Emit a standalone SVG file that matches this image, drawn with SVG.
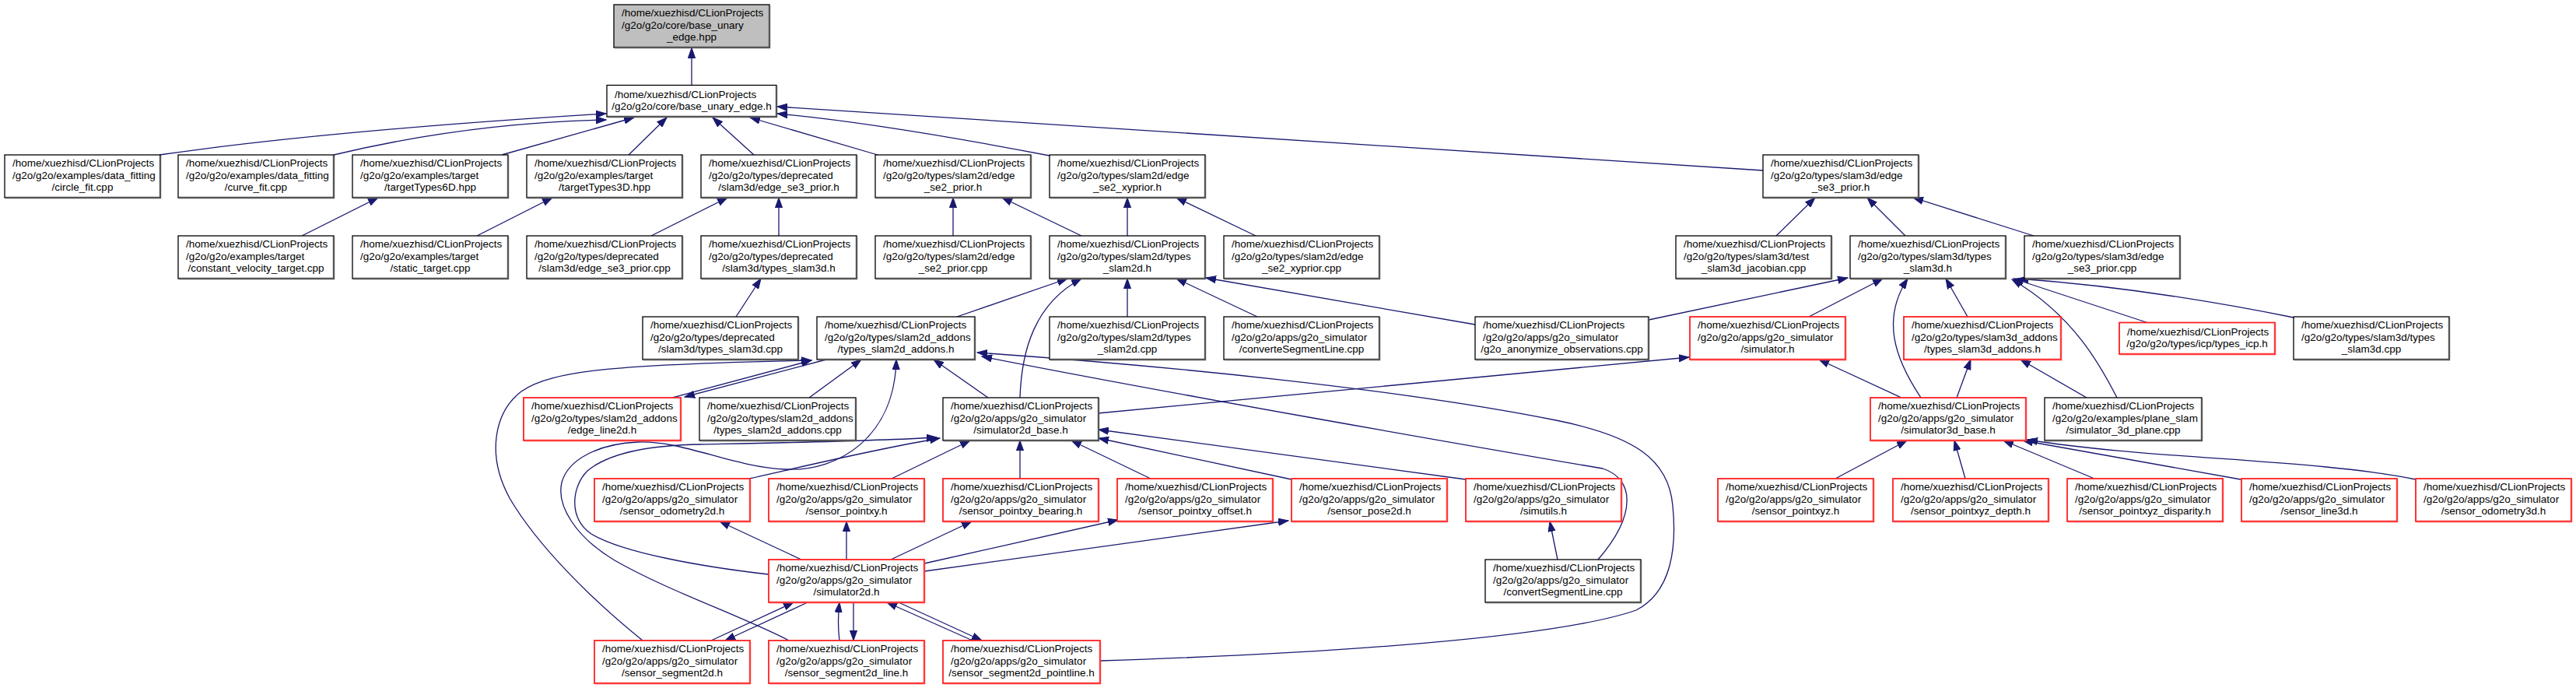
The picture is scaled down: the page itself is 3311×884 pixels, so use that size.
<svg xmlns="http://www.w3.org/2000/svg" width="3311" height="884" viewBox="0 0 3311 884">
<defs>
<marker id="ah" markerWidth="14" markerHeight="10" refX="13" refY="5" orient="auto" markerUnits="userSpaceOnUse"><path d="M0,0.4 L13,5 L0,9.6 z" fill="#191970" stroke="#191970" stroke-width="1"/></marker>
<style>
.e{fill:none;stroke:#191970;stroke-width:1.3;marker-end:url(#ah)}
.b rect{fill:#fff;stroke:#000;stroke-width:1.3}
.g rect{fill:#bfbfbf;stroke:#000;stroke-width:1.3}
.r rect{fill:#fff;stroke:#ff2020;stroke-width:1.8}
.s{fill:none;stroke:#555;stroke-width:2.4}
.rs{fill:none;stroke:#ff3a3a;stroke-width:2.4}
text{font-family:"Liberation Sans",Arial,sans-serif;font-size:13.5px;fill:#000}
.c{text-anchor:middle}
</style>
</defs>
<rect width="3311" height="884" fill="#fff"/>
<g id="edges">
<path class="e" d="M889,109.5 L889,61.5"/>
<path class="e" d="M205,199 Q420,168 779,146"/>
<path class="e" d="M429,199 Q600,158 779,154"/>
<path class="e" d="M645,199 L815,151"/>
<path class="e" d="M808,199 L857,151"/>
<path class="e" d="M969,199 L916,151"/>
<path class="e" d="M1128,199 L964,151"/>
<path class="e" d="M1349,200 Q1130,158 999,146"/>
<path class="e" d="M2266,219 L999,137"/>
<path class="e" d="M388,303 L486,254"/>
<path class="e" d="M613,303 L710,254"/>
<path class="e" d="M837,303 L935,254"/>
<path class="e" d="M1001,303 V254"/>
<path class="e" d="M946,407 L978,358"/>
<path class="e" d="M1225,303 V254"/>
<path class="e" d="M1390,303 L1288,254"/>
<path class="e" d="M1449,303 V254"/>
<path class="e" d="M1614,303 L1512,254"/>
<path class="e" d="M2283,303 L2333,254"/>
<path class="e" d="M2449,303 L2400,254"/>
<path class="e" d="M2614,303 L2459,254"/>
<path class="e" d="M1230,407 L1372,358"/>
<path class="e" d="M1449,407 V358"/>
<path class="e" d="M1616,407 L1512,358"/>
<path class="e" d="M1896,417 L1550,357"/>
<path class="e" d="M2119,411 L2375,357"/>
<path class="e" d="M2325,407 L2420,358"/>
<path class="e" d="M2529,407 L2501,358"/>
<path class="e" d="M2760,414.5 L2588,358"/>
<path class="e" d="M2948,408 Q2760,370 2594,358"/>
<path class="e" d="M864,511 L1043,463"/>
<path class="e" d="M1062,462 L880,510"/>
<path class="e" d="M1040,511 L1107,462"/>
<path class="e" d="M1270,511 L1200,462"/>
<path class="e" d="M1311,511 C1313,450 1330,390 1390,358"/>
<path class="e" d="M1411,531 L2171,459"/>
<path class="e" d="M2444,511 L2338,462"/>
<path class="e" d="M2515,511 L2533,462"/>
<path class="e" d="M2469,511 C2435,460 2418,410 2452,358"/>
<path class="e" d="M2682,511 L2597,462"/>
<path class="e" d="M2721,511 C2700,470 2665,405 2586,359"/>
<path class="e" d="M963,615 C1030,600 1120,578 1208,563"/>
<path class="e" d="M1146,615 L1247,566"/>
<path class="e" d="M1311,615 V566"/>
<path class="e" d="M1479,615 L1377,566"/>
<path class="e" d="M1660,616 L1412,563"/>
<path class="e" d="M1884,616 L1412,552"/>
<path class="e" d="M1014,823 C950,790 860,760 790,720 C740,690 715,650 722,620 C730,590 770,570 820,568 C880,566 940,600 1010,603 C1080,606 1150,560 1152,462"/>
<path class="e" d="M988,738 C900,728 800,710 760,686 C730,665 735,625 755,605 C785,580 840,572 900,571 C1000,569 1120,567 1204,562"/>
<path class="e" d="M826,823 C760,770 690,700 655,640 C625,585 635,530 670,503 C710,475 800,468 1043,463"/>
<path class="e" d="M1030,719 L925,670"/>
<path class="e" d="M1088,719 V670"/>
<path class="e" d="M1145,719 L1249,670"/>
<path class="e" d="M1188,724 L1437,668"/>
<path class="e" d="M1188,734 L1656,669"/>
<path class="e" d="M914,823 L1020,774"/>
<path class="e" d="M1038,774 L932,823"/>
<path class="e" d="M1079,823 Q1076,800 1079,774"/>
<path class="e" d="M1097,774 V823"/>
<path class="e" d="M1250,823 L1140,774"/>
<path class="e" d="M1155,774 L1262,823"/>
<path class="e" d="M1414,849 C1700,840 2000,820 2103,784 C2150,760 2155,700 2150,650 C2145,590 2100,560 2000,540 C1800,500 1500,470 1256,453"/>
<path class="e" d="M2054,719 C2105,660 2100,615 2060,602 C1900,575 1500,505 1262,458"/>
<path class="e" d="M2002,719 L1992,670"/>
<path class="e" d="M2359,615 L2451,566"/>
<path class="e" d="M2526,615 L2512,566"/>
<path class="e" d="M2692,615 L2575,566"/>
<path class="e" d="M2880,616 L2600,566"/>
<path class="e" d="M3105,616 C2980,590 2760,590 2606,565"/>
</g>
<g id="n_base_unary_edge_hpp" class="g"><rect x="789" y="6" width="200" height="55"/><path class="s" d="M989,7V61H790"/><text x="799" y="21">/home/xuezhisd/CLionProjects</text><text x="799" y="36.5">/g2o/g2o/core/base_unary</text><text class="c" x="889" y="52">_edge.hpp</text></g>
<g id="n_base_unary_edge_h" class="b"><rect x="780" y="109.5" width="218" height="40.5"/><path class="s" d="M998,110.5V150H781"/><text x="790" y="125.5">/home/xuezhisd/CLionProjects</text><text class="c" x="889" y="140.5">/g2o/g2o/core/base_unary_edge.h</text></g>
<g id="n_circle_fit" class="b"><rect x="6" y="199" width="200" height="55"/><path class="s" d="M206,200V254H7"/><text x="16" y="214">/home/xuezhisd/CLionProjects</text><text x="16" y="229.5">/g2o/g2o/examples/data_fitting</text><text class="c" x="106" y="245">/circle_fit.cpp</text></g>
<g id="n_curve_fit" class="b"><rect x="229" y="199" width="200" height="55"/><path class="s" d="M429,200V254H230"/><text x="239" y="214">/home/xuezhisd/CLionProjects</text><text x="239" y="229.5">/g2o/g2o/examples/data_fitting</text><text class="c" x="329" y="245">/curve_fit.cpp</text></g>
<g id="n_targetTypes6D" class="b"><rect x="453" y="199" width="200" height="55"/><path class="s" d="M653,200V254H454"/><text x="463" y="214">/home/xuezhisd/CLionProjects</text><text x="463" y="229.5">/g2o/g2o/examples/target</text><text class="c" x="553" y="245">/targetTypes6D.hpp</text></g>
<g id="n_targetTypes3D" class="b"><rect x="677" y="199" width="200" height="55"/><path class="s" d="M877,200V254H678"/><text x="687" y="214">/home/xuezhisd/CLionProjects</text><text x="687" y="229.5">/g2o/g2o/examples/target</text><text class="c" x="777" y="245">/targetTypes3D.hpp</text></g>
<g id="n_depr_edge_se3_prior_h" class="b"><rect x="901" y="199" width="200" height="55"/><path class="s" d="M1101,200V254H902"/><text x="911" y="214">/home/xuezhisd/CLionProjects</text><text x="911" y="229.5">/g2o/g2o/types/deprecated</text><text class="c" x="1001" y="245">/slam3d/edge_se3_prior.h</text></g>
<g id="n_edge_se2_prior_h" class="b"><rect x="1125" y="199" width="200" height="55"/><path class="s" d="M1325,200V254H1126"/><text x="1135" y="214">/home/xuezhisd/CLionProjects</text><text x="1135" y="229.5">/g2o/g2o/types/slam2d/edge</text><text class="c" x="1225" y="245">_se2_prior.h</text></g>
<g id="n_edge_se2_xyprior_h" class="b"><rect x="1349" y="199" width="200" height="55"/><path class="s" d="M1549,200V254H1350"/><text x="1359" y="214">/home/xuezhisd/CLionProjects</text><text x="1359" y="229.5">/g2o/g2o/types/slam2d/edge</text><text class="c" x="1449" y="245">_se2_xyprior.h</text></g>
<g id="n_slam3d_edge_se3_prior_h" class="b"><rect x="2266" y="199" width="200" height="55"/><path class="s" d="M2466,200V254H2267"/><text x="2276" y="214">/home/xuezhisd/CLionProjects</text><text x="2276" y="229.5">/g2o/g2o/types/slam3d/edge</text><text class="c" x="2366" y="245">_se3_prior.h</text></g>
<g id="n_constant_velocity_target" class="b"><rect x="229" y="303" width="200" height="55"/><path class="s" d="M429,304V358H230"/><text x="239" y="318">/home/xuezhisd/CLionProjects</text><text x="239" y="333.5">/g2o/g2o/examples/target</text><text class="c" x="329" y="349">/constant_velocity_target.cpp</text></g>
<g id="n_static_target" class="b"><rect x="453" y="303" width="200" height="55"/><path class="s" d="M653,304V358H454"/><text x="463" y="318">/home/xuezhisd/CLionProjects</text><text x="463" y="333.5">/g2o/g2o/examples/target</text><text class="c" x="553" y="349">/static_target.cpp</text></g>
<g id="n_depr_edge_se3_prior_cpp" class="b"><rect x="677" y="303" width="200" height="55"/><path class="s" d="M877,304V358H678"/><text x="687" y="318">/home/xuezhisd/CLionProjects</text><text x="687" y="333.5">/g2o/g2o/types/deprecated</text><text class="c" x="777" y="349">/slam3d/edge_se3_prior.cpp</text></g>
<g id="n_depr_types_slam3d_h" class="b"><rect x="901" y="303" width="200" height="55"/><path class="s" d="M1101,304V358H902"/><text x="911" y="318">/home/xuezhisd/CLionProjects</text><text x="911" y="333.5">/g2o/g2o/types/deprecated</text><text class="c" x="1001" y="349">/slam3d/types_slam3d.h</text></g>
<g id="n_edge_se2_prior_cpp" class="b"><rect x="1125" y="303" width="200" height="55"/><path class="s" d="M1325,304V358H1126"/><text x="1135" y="318">/home/xuezhisd/CLionProjects</text><text x="1135" y="333.5">/g2o/g2o/types/slam2d/edge</text><text class="c" x="1225" y="349">_se2_prior.cpp</text></g>
<g id="n_types_slam2d_h" class="b"><rect x="1349" y="303" width="200" height="55"/><path class="s" d="M1549,304V358H1350"/><text x="1359" y="318">/home/xuezhisd/CLionProjects</text><text x="1359" y="333.5">/g2o/g2o/types/slam2d/types</text><text class="c" x="1449" y="349">_slam2d.h</text></g>
<g id="n_edge_se2_xyprior_cpp" class="b"><rect x="1573" y="303" width="200" height="55"/><path class="s" d="M1773,304V358H1574"/><text x="1583" y="318">/home/xuezhisd/CLionProjects</text><text x="1583" y="333.5">/g2o/g2o/types/slam2d/edge</text><text class="c" x="1673" y="349">_se2_xyprior.cpp</text></g>
<g id="n_test_slam3d_jacobian" class="b"><rect x="2154" y="303" width="200" height="55"/><path class="s" d="M2354,304V358H2155"/><text x="2164" y="318">/home/xuezhisd/CLionProjects</text><text x="2164" y="333.5">/g2o/g2o/types/slam3d/test</text><text class="c" x="2254" y="349">_slam3d_jacobian.cpp</text></g>
<g id="n_types_slam3d_h" class="b"><rect x="2378" y="303" width="200" height="55"/><path class="s" d="M2578,304V358H2379"/><text x="2388" y="318">/home/xuezhisd/CLionProjects</text><text x="2388" y="333.5">/g2o/g2o/types/slam3d/types</text><text class="c" x="2478" y="349">_slam3d.h</text></g>
<g id="n_edge_se3_prior_cpp" class="b"><rect x="2602" y="303" width="200" height="55"/><path class="s" d="M2802,304V358H2603"/><text x="2612" y="318">/home/xuezhisd/CLionProjects</text><text x="2612" y="333.5">/g2o/g2o/types/slam3d/edge</text><text class="c" x="2702" y="349">_se3_prior.cpp</text></g>
<g id="n_depr_types_slam3d_cpp" class="b"><rect x="826" y="407" width="200" height="55"/><path class="s" d="M1026,408V462H827"/><text x="836" y="422">/home/xuezhisd/CLionProjects</text><text x="836" y="437.5">/g2o/g2o/types/deprecated</text><text class="c" x="926" y="453">/slam3d/types_slam3d.cpp</text></g>
<g id="n_types_slam2d_addons_h" class="b"><rect x="1050" y="407" width="203" height="55"/><path class="s" d="M1253,408V462H1051"/><text x="1060" y="422">/home/xuezhisd/CLionProjects</text><text x="1060" y="437.5">/g2o/g2o/types/slam2d_addons</text><text class="c" x="1151.5" y="453">/types_slam2d_addons.h</text></g>
<g id="n_types_slam2d_cpp" class="b"><rect x="1349" y="407" width="200" height="55"/><path class="s" d="M1549,408V462H1350"/><text x="1359" y="422">/home/xuezhisd/CLionProjects</text><text x="1359" y="437.5">/g2o/g2o/types/slam2d/types</text><text class="c" x="1449" y="453">_slam2d.cpp</text></g>
<g id="n_converteSegmentLine" class="b"><rect x="1573" y="407" width="200" height="55"/><path class="s" d="M1773,408V462H1574"/><text x="1583" y="422">/home/xuezhisd/CLionProjects</text><text x="1583" y="437.5">/g2o/g2o/apps/g2o_simulator</text><text class="c" x="1673" y="453">/converteSegmentLine.cpp</text></g>
<g id="n_g2o_anonymize_observations" class="b"><rect x="1896" y="407" width="223" height="55"/><path class="s" d="M2119,408V462H1897"/><text x="1906" y="422">/home/xuezhisd/CLionProjects</text><text x="1906" y="437.5">/g2o/g2o/apps/g2o_simulator</text><text class="c" x="2007.5" y="453">/g2o_anonymize_observations.cpp</text></g>
<g id="n_simulator_h" class="r"><rect x="2172" y="407" width="200" height="55"/><path class="rs" d="M2372,408V462H2173"/><text x="2182" y="422">/home/xuezhisd/CLionProjects</text><text x="2182" y="437.5">/g2o/g2o/apps/g2o_simulator</text><text class="c" x="2272" y="453">/simulator.h</text></g>
<g id="n_types_slam3d_addons_h" class="r"><rect x="2447" y="407" width="202" height="55"/><path class="rs" d="M2649,408V462H2448"/><text x="2457" y="422">/home/xuezhisd/CLionProjects</text><text x="2457" y="437.5">/g2o/g2o/types/slam3d_addons</text><text class="c" x="2548" y="453">/types_slam3d_addons.h</text></g>
<g id="n_types_icp_h" class="r"><rect x="2724" y="414.5" width="200" height="40.5"/><path class="rs" d="M2924,415.5V455H2725"/><text x="2734" y="430.5">/home/xuezhisd/CLionProjects</text><text class="c" x="2824" y="445.5">/g2o/g2o/types/icp/types_icp.h</text></g>
<g id="n_types_slam3d_cpp" class="b"><rect x="2948" y="407" width="200" height="55"/><path class="s" d="M3148,408V462H2949"/><text x="2958" y="422">/home/xuezhisd/CLionProjects</text><text x="2958" y="437.5">/g2o/g2o/types/slam3d/types</text><text class="c" x="3048" y="453">_slam3d.cpp</text></g>
<g id="n_edge_line2d_h" class="r"><rect x="673" y="511" width="202" height="55"/><path class="rs" d="M875,512V566H674"/><text x="683" y="526">/home/xuezhisd/CLionProjects</text><text x="683" y="541.5">/g2o/g2o/types/slam2d_addons</text><text class="c" x="774" y="557">/edge_line2d.h</text></g>
<g id="n_types_slam2d_addons_cpp" class="b"><rect x="899" y="511" width="201" height="55"/><path class="s" d="M1100,512V566H900"/><text x="909" y="526">/home/xuezhisd/CLionProjects</text><text x="909" y="541.5">/g2o/g2o/types/slam2d_addons</text><text class="c" x="999.5" y="557">/types_slam2d_addons.cpp</text></g>
<g id="n_simulator2d_base_h" class="b"><rect x="1212" y="511" width="200" height="55"/><path class="s" d="M1412,512V566H1213"/><text x="1222" y="526">/home/xuezhisd/CLionProjects</text><text x="1222" y="541.5">/g2o/g2o/apps/g2o_simulator</text><text class="c" x="1312" y="557">/simulator2d_base.h</text></g>
<g id="n_simulator3d_base_h" class="r"><rect x="2404" y="511" width="200" height="55"/><path class="rs" d="M2604,512V566H2405"/><text x="2414" y="526">/home/xuezhisd/CLionProjects</text><text x="2414" y="541.5">/g2o/g2o/apps/g2o_simulator</text><text class="c" x="2504" y="557">/simulator3d_base.h</text></g>
<g id="n_simulator_3d_plane" class="b"><rect x="2628" y="511" width="202" height="55"/><path class="s" d="M2830,512V566H2629"/><text x="2638" y="526">/home/xuezhisd/CLionProjects</text><text x="2638" y="541.5">/g2o/g2o/examples/plane_slam</text><text class="c" x="2729" y="557">/simulator_3d_plane.cpp</text></g>
<g id="n_sensor_odometry2d_h" class="r"><rect x="764" y="615" width="200" height="55"/><path class="rs" d="M964,616V670H765"/><text x="774" y="630">/home/xuezhisd/CLionProjects</text><text x="774" y="645.5">/g2o/g2o/apps/g2o_simulator</text><text class="c" x="864" y="661">/sensor_odometry2d.h</text></g>
<g id="n_sensor_pointxy_h" class="r"><rect x="988" y="615" width="200" height="55"/><path class="rs" d="M1188,616V670H989"/><text x="998" y="630">/home/xuezhisd/CLionProjects</text><text x="998" y="645.5">/g2o/g2o/apps/g2o_simulator</text><text class="c" x="1088" y="661">/sensor_pointxy.h</text></g>
<g id="n_sensor_pointxy_bearing_h" class="r"><rect x="1212" y="615" width="200" height="55"/><path class="rs" d="M1412,616V670H1213"/><text x="1222" y="630">/home/xuezhisd/CLionProjects</text><text x="1222" y="645.5">/g2o/g2o/apps/g2o_simulator</text><text class="c" x="1312" y="661">/sensor_pointxy_bearing.h</text></g>
<g id="n_sensor_pointxy_offset_h" class="r"><rect x="1436" y="615" width="200" height="55"/><path class="rs" d="M1636,616V670H1437"/><text x="1446" y="630">/home/xuezhisd/CLionProjects</text><text x="1446" y="645.5">/g2o/g2o/apps/g2o_simulator</text><text class="c" x="1536" y="661">/sensor_pointxy_offset.h</text></g>
<g id="n_sensor_pose2d_h" class="r"><rect x="1660" y="615" width="200" height="55"/><path class="rs" d="M1860,616V670H1661"/><text x="1670" y="630">/home/xuezhisd/CLionProjects</text><text x="1670" y="645.5">/g2o/g2o/apps/g2o_simulator</text><text class="c" x="1760" y="661">/sensor_pose2d.h</text></g>
<g id="n_simutils_h" class="r"><rect x="1884" y="615" width="200" height="55"/><path class="rs" d="M2084,616V670H1885"/><text x="1894" y="630">/home/xuezhisd/CLionProjects</text><text x="1894" y="645.5">/g2o/g2o/apps/g2o_simulator</text><text class="c" x="1984" y="661">/simutils.h</text></g>
<g id="n_sensor_pointxyz_h" class="r"><rect x="2208" y="615" width="200" height="55"/><path class="rs" d="M2408,616V670H2209"/><text x="2218" y="630">/home/xuezhisd/CLionProjects</text><text x="2218" y="645.5">/g2o/g2o/apps/g2o_simulator</text><text class="c" x="2308" y="661">/sensor_pointxyz.h</text></g>
<g id="n_sensor_pointxyz_depth_h" class="r"><rect x="2433" y="615" width="200" height="55"/><path class="rs" d="M2633,616V670H2434"/><text x="2443" y="630">/home/xuezhisd/CLionProjects</text><text x="2443" y="645.5">/g2o/g2o/apps/g2o_simulator</text><text class="c" x="2533" y="661">/sensor_pointxyz_depth.h</text></g>
<g id="n_sensor_pointxyz_disparity_h" class="r"><rect x="2657" y="615" width="200" height="55"/><path class="rs" d="M2857,616V670H2658"/><text x="2667" y="630">/home/xuezhisd/CLionProjects</text><text x="2667" y="645.5">/g2o/g2o/apps/g2o_simulator</text><text class="c" x="2757" y="661">/sensor_pointxyz_disparity.h</text></g>
<g id="n_sensor_line3d_h" class="r"><rect x="2881" y="615" width="200" height="55"/><path class="rs" d="M3081,616V670H2882"/><text x="2891" y="630">/home/xuezhisd/CLionProjects</text><text x="2891" y="645.5">/g2o/g2o/apps/g2o_simulator</text><text class="c" x="2981" y="661">/sensor_line3d.h</text></g>
<g id="n_sensor_odometry3d_h" class="r"><rect x="3105" y="615" width="200" height="55"/><path class="rs" d="M3305,616V670H3106"/><text x="3115" y="630">/home/xuezhisd/CLionProjects</text><text x="3115" y="645.5">/g2o/g2o/apps/g2o_simulator</text><text class="c" x="3205" y="661">/sensor_odometry3d.h</text></g>
<g id="n_simulator2d_h" class="r"><rect x="988" y="719" width="200" height="55"/><path class="rs" d="M1188,720V774H989"/><text x="998" y="734">/home/xuezhisd/CLionProjects</text><text x="998" y="749.5">/g2o/g2o/apps/g2o_simulator</text><text class="c" x="1088" y="765">/simulator2d.h</text></g>
<g id="n_convertSegmentLine" class="b"><rect x="1909" y="719" width="200" height="55"/><path class="s" d="M2109,720V774H1910"/><text x="1919" y="734">/home/xuezhisd/CLionProjects</text><text x="1919" y="749.5">/g2o/g2o/apps/g2o_simulator</text><text class="c" x="2009" y="765">/convertSegmentLine.cpp</text></g>
<g id="n_sensor_segment2d_h" class="r"><rect x="764" y="823" width="200" height="55"/><path class="rs" d="M964,824V878H765"/><text x="774" y="838">/home/xuezhisd/CLionProjects</text><text x="774" y="853.5">/g2o/g2o/apps/g2o_simulator</text><text class="c" x="864" y="869">/sensor_segment2d.h</text></g>
<g id="n_sensor_segment2d_line_h" class="r"><rect x="988" y="823" width="200" height="55"/><path class="rs" d="M1188,824V878H989"/><text x="998" y="838">/home/xuezhisd/CLionProjects</text><text x="998" y="853.5">/g2o/g2o/apps/g2o_simulator</text><text class="c" x="1088" y="869">/sensor_segment2d_line.h</text></g>
<g id="n_sensor_segment2d_pointline_h" class="r"><rect x="1212" y="823" width="202" height="55"/><path class="rs" d="M1414,824V878H1213"/><text x="1222" y="838">/home/xuezhisd/CLionProjects</text><text x="1222" y="853.5">/g2o/g2o/apps/g2o_simulator</text><text class="c" x="1313" y="869">/sensor_segment2d_pointline.h</text></g>
</svg>
